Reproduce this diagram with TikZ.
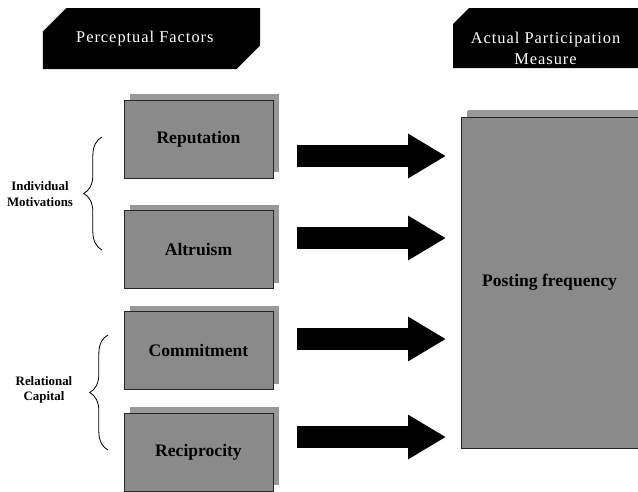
\documentclass[tikz,border=0pt]{standalone}
\usepackage{fontspec}
\setmainfont{Liberation Serif}
\usepackage{tikz}
\usetikzlibrary{arrows.meta,positioning,shapes.misc,shadows,decorations.pathreplacing}
\definecolor{factorgray}{HTML}{8A8A8A}
\definecolor{shadegray}{HTML}{989898}
\tikzset{
  hdr/.style={chamfered rectangle, chamfered rectangle corners={north west,south east}, chamfered rectangle sep=4.8mm,
    fill=black, text=white, align=center, inner sep=0pt, font=\fontsize{14}{18}\selectfont\addfontfeatures{LetterSpace=6}},
  factor/.style={draw=black!85, line width=0.6pt, fill=factorgray, minimum width=44.7mm, minimum height=23.4mm,
    align=center, font=\fontsize{15}{17}\selectfont\bfseries,
    copy shadow={shadow xshift=1.8mm, shadow yshift=1.8mm, fill=shadegray, draw=none}},
  result/.style={factor, minimum width=53.1mm, minimum height=99.3mm,
    copy shadow={shadow xshift=2.1mm, shadow yshift=2.1mm, fill=shadegray, draw=none}},
  bigarrow/.style={line width=6.6mm, -{Triangle[length=11.4mm,width=12.6mm]}},
  grp/.style={decorate, decoration={brace, amplitude=5.5mm}, line width=0.7pt},
  grplabel/.style={align=center, font=\fontsize{11}{13}\selectfont\bfseries}
}
\begin{document}
\begin{tikzpicture}[x=0.03cm, y=-0.03cm]
\useasboundingbox (0,0) rectangle (638,491);
\node[hdr, minimum width=65.1mm, minimum height=18.3mm] (hdrpf) at (151.5,38.5) {\hspace*{-4mm}Perceptual Factors};
\node[hdr, chamfered rectangle corners=north west, minimum width=55.5mm, minimum height=18mm] (hdrap) at (545.5,38)
  {\raisebox{-4.7mm}[0pt][0pt]{\begin{tabular}{@{}c@{}}Actual Participation\\Measure\end{tabular}}};

\node[factor] (rep) at (198.5,139) {Reputation};
\node[factor] (alt) at (198.5,249.5) {Altruism};
\node[factor] (com) at (198.5,350.5) {Commitment};
\node[factor] (rec) at (198.5,452) {Reciprocity};

\node[result] (post) at (549.5,282.5) {Posting frequency};

\foreach \n/\y in {1/156, 2/238, 3/339, 4/437} {
  \coordinate (s\n) at (297,\y);
  \coordinate (e\n) at (446,\y);
  \draw[bigarrow] (s\n) -- (e\n);
}

\coordinate (imlo) at (102,250);
\coordinate (imhi) at (102,137);
\draw[grp] (imlo) -- (imhi);
\node[grplabel] (indiv) at (40,194) {Individual\\Motivations};

\coordinate (rclo) at (108,450);
\coordinate (rchi) at (108,335);
\draw[grp] (rclo) -- (rchi);
\node[grplabel] (relcap) at (44,390) {Relational\\Capital};
\end{tikzpicture}
\end{document}
